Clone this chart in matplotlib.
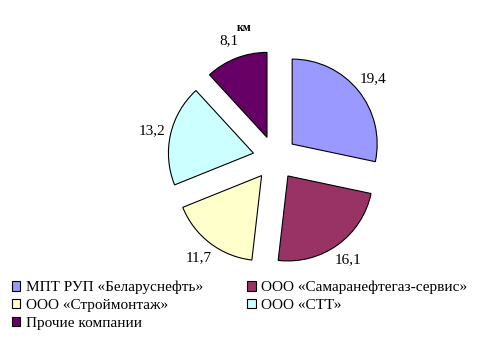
import matplotlib
matplotlib.use("Agg")
import matplotlib.pyplot as plt
from matplotlib.patches import Patch

categories = ["МПТ РУП «Беларуснефть»", "ООО «Самаранефтегаз-сервис»",
              "ООО «Строймонтаж»", "ООО «СТТ»", "Прочие компании"]
values = [19.4, 16.1, 11.7, 13.2, 8.1]
value_labels = ["19,4", "16,1", "11,7", "13,2", "8,1"]
colors = ["#9999FF", "#993366", "#FFFFCC", "#CCFFFF", "#660066"]
unit = "км"

plt.rcParams['font.family'] = ['Liberation Serif', 'DejaVu Serif']

W, H = 489, 339
fig = plt.figure(figsize=(W / 100, H / 100), dpi=100)

cx, cy, R = 275, 158, 85
half = 110
ax = fig.add_axes([(cx - half) / W, (H - cy - half) / H, 2 * half / W, 2 * half / H])

wedges, texts = ax.pie(values, labels=value_labels, colors=colors, startangle=90,
                       counterclock=False, explode=[0.26] * len(values),
                       labeldistance=1.22, radius=1,
                       wedgeprops=dict(edgecolor='black', linewidth=0.8),
                       textprops=dict(fontsize=11, color='black'))
for t in texts:
    t.set_ha('center')
    t.set_va('center')

a = half / R
ax.set_xlim(-a, a)
ax.set_ylim(-a, a)
ax.set_aspect('equal')
ax.axis('off')

fig.text(244 / W, 1 - 28 / H, unit, ha='center', va='center', fontsize=8.5, fontweight='bold')

# row-wise legend order (matplotlib fills columns first)
order = [0, 2, 4, 1, 3]
handles = [Patch(facecolor=colors[i], edgecolor='black', linewidth=0.8) for i in order]
labels = [categories[i] for i in order]
fig.legend(handles, labels, loc='upper left', bbox_to_anchor=(12 / W, 1 - 281 / H),
           ncol=2, frameon=False, fontsize=11, handlelength=0.55, handleheight=0.55,
           handletextpad=0.35, columnspacing=2.9, labelspacing=0.3,
           borderpad=0, borderaxespad=0)

fig.savefig("out.png", dpi=100)
